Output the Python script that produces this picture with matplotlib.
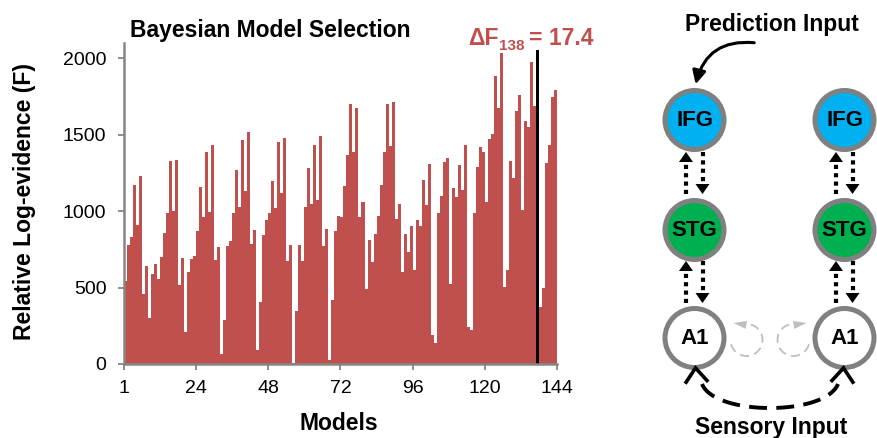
import numpy as np
import matplotlib
matplotlib.use('Agg')
import matplotlib.pyplot as plt
from matplotlib.patches import Circle, Polygon, FancyArrowPatch

plt.rcParams['font.family'] = ['Liberation Sans', 'DejaVu Sans']

# --- data ---
models = np.arange(1, 145)
evidence = [
    540, 780, 830, 1170, 910, 1230, 460, 640, 300, 590, 655, 555,
    700, 855, 985, 1330, 1000, 1335, 520, 695, 210, 600, 690, 705,
    870, 1160, 960, 1390, 995, 1435, 680, 765, 65, 290, 775, 805,
    990, 1270, 1025, 1465, 1130, 1515, 785, 875, 90, 405, 845, 940,
    990, 1195, 1020, 1450, 1120, 1480, 675, 780, 8, 345, 780, 675,
    1030, 1285, 1050, 1435, 1075, 1490, 770, 885, 25, 420, 870, 965,
    960, 1165, 1370, 1700, 1385, 1675, 960, 1060, 490, 810, 665, 850,
    965, 1170, 1385, 1700, 1425, 1715, 950, 1050, 600, 850, 730, 900,
    615, 940, 905, 1205, 1040, 1310, 190, 140, 990, 1100, 1320, 1345,
    525, 1150, 1095, 1300, 1140, 1430, 245, 225, 990, 1290, 1420, 1385,
    1060, 1470, 1505, 1885, 1675, 2037, 505, 615, 1325, 1220, 1655, 1760,
    1010, 1590, 1550, 1975, 1690, 2054, 375, 495, 1315, 1430, 1750, 1795,
]
best_model = 138
delta_f = 17.4
xtick_models = [1, 24, 48, 72, 96, 120, 144]
ytick_vals = [0, 500, 1000, 1500, 2000]

node_names = ['IFG', 'STG', 'A1']
node_colors = ['#00B0F0', '#00B050', 'white']

RED = '#C0504D'
GRAY = '#868686'
W, H = 877, 438

fig = plt.figure(figsize=(W / 100, H / 100), dpi=100)

# --- bar chart ---
ax = fig.add_axes([123.5 / W, 74 / H, (557.3 - 123.5) / W, 321 / H])
bar_colors = ['black' if m == best_model else RED for m in models]
ax.bar(models, evidence, width=1.0, color=bar_colors, linewidth=0)
ax.set_xlim(0.5, 144.5)
ax.set_ylim(0, 2100)
ax.set_yticks(ytick_vals)
ax.set_xticks([0.5] + [m + 0.5 for m in xtick_models[1:]])
ax.set_xticklabels([str(m) for m in xtick_models])
for s in ['top', 'right']:
    ax.spines[s].set_visible(False)
for s in ['left', 'bottom']:
    ax.spines[s].set_color(GRAY)
    ax.spines[s].set_linewidth(1.8)
ax.tick_params(axis='both', direction='out', length=4.3, width=1.3,
               color=GRAY, labelsize=14, labelcolor='black')
ax.tick_params(axis='y', pad=8)
ax.tick_params(axis='x', pad=7)

fig.text(130 / W, 1 - 37 / H, 'Bayesian Model Selection', fontsize=16.5,
         fontweight='bold', ha='left', va='baseline')
fig.text(25 / W, 1 - 202 / H, 'Relative Log-evidence (F)', fontsize=16.5,
         fontweight='bold', rotation=90, ha='center', va='center')
fig.text(339 / W, 1 - 430 / H, 'Models', fontsize=16.5,
         fontweight='bold', ha='center', va='baseline')

fig.text(468 / W, 1 - 45 / H, '\u0394F', fontsize=16.5, fontweight='bold',
         color=RED, ha='left', va='baseline')
fig.text(499 / W, 1 - 50 / H, str(best_model), fontsize=11, fontweight='bold',
         color=RED, ha='left', va='baseline')
fig.text(529 / W, 1 - 45 / H, '= %.1f' % delta_f, fontsize=16.5,
         fontweight='bold', color=RED, ha='left', va='baseline')

# --- network diagram (pixel coordinates) ---
ov = fig.add_axes([0, 0, 1, 1])
ov.set_xlim(0, W)
ov.set_ylim(H, 0)
ov.axis('off')

col_x = [694.5, 844.5]
row_y = [120, 230, 338]


def head(tip, d, L, w, color, z=6):
    d = np.array(d, float)
    d /= np.hypot(*d)
    n = np.array([-d[1], d[0]])
    tip = np.array(tip, float)
    base = tip - d * L
    ov.add_patch(Polygon([tip, base + n * w / 2, base - n * w / 2],
                         closed=True, fc=color, ec='none', zorder=z))


def chevron(tip, d, L, ang, color, lw):
    d = np.array(d, float)
    d /= np.hypot(*d)
    tip = np.array(tip, float)
    pts = []
    for a in (ang, -ang):
        c, s = np.cos(np.radians(a)), np.sin(np.radians(a))
        r = np.array([c * d[0] - s * d[1], s * d[0] + c * d[1]])
        pts.append(tip - r * L)
    ov.plot([pts[0][0], tip[0], pts[1][0]], [pts[0][1], tip[1], pts[1][1]],
            color=color, lw=lw, solid_joinstyle='miter', zorder=6)


for cx in col_x:
    for cy, name, fc in zip(row_y, node_names, node_colors):
        ov.add_patch(Circle((cx, cy), 29.5, fc=fc, ec='#808080', lw=3.6, zorder=4))
        ov.text(cx, cy + 1, name, fontsize=16, fontweight='bold',
                ha='center', va='center', zorder=5)
    # dotted connections
    for top, bot in [(152, 194), (261, 303)]:
        xu, xd = cx - 8.5, cx + 8
        ov.plot([xu, xu], [bot, top + 9], color='k', lw=3,
                linestyle=(0, (1, 1)), dash_capstyle='butt', zorder=5)
        head((xu, top), (0, -1), 10, 14, 'k')
        ov.plot([xd, xd], [top, bot - 9], color='k', lw=3,
                linestyle=(0, (1, 1)), dash_capstyle='butt', zorder=5)
        head((xd, bot), (0, 1), 10, 14, 'k')

# gray self loops at A1
r_loop = 16
for cx, sign in [(746.5, 1), (793.5, -1)]:
    phi = np.radians(np.linspace(195, 450, 80))
    ov.plot(cx + sign * r_loop * np.cos(phi), 340 - r_loop * np.sin(phi),
            color='#BFBFBF', lw=1.3, linestyle=(0, (5, 3)), zorder=3)
    bx, by = cx, 340 - r_loop
    head((bx - sign * 13, by - 1), (-sign, -0.15), 13, 8, '#BFBFBF', z=3)

# prediction input arrow
ov.add_patch(FancyArrowPatch((757, 43), (695, 87), arrowstyle='-|>',
                             connectionstyle='arc3,rad=0.45', mutation_scale=20,
                             lw=2.2, color='k', zorder=6))
ov.text(771.5, 31, 'Prediction Input', fontsize=16.5, fontweight='bold',
        ha='center', va='baseline')

# sensory input dashed arc (cubic bezier)
t = np.linspace(0, 1, 120)[:, None]
p0, p1 = np.array([702, 384]), np.array([715, 416])
p2, p3 = np.array([825, 416]), np.array([838, 384])
curve = (1 - t) ** 3 * p0 + 3 * t * (1 - t) ** 2 * p1 + 3 * t ** 2 * (1 - t) * p2 + t ** 3 * p3
ov.plot(curve[:, 0], curve[:, 1], color='k', lw=2.8,
        linestyle=(0, (4.6, 2.4)), zorder=5)
chevron((695.5, 368), (-0.08, -1), 17, 38, 'k', 2.6)
chevron((843.5, 368), (0.08, -1), 17, 38, 'k', 2.6)
ov.text(771.5, 434, 'Sensory Input', fontsize=16.5, fontweight='bold',
        ha='center', va='baseline')

fig.savefig('out.png', dpi=100)
